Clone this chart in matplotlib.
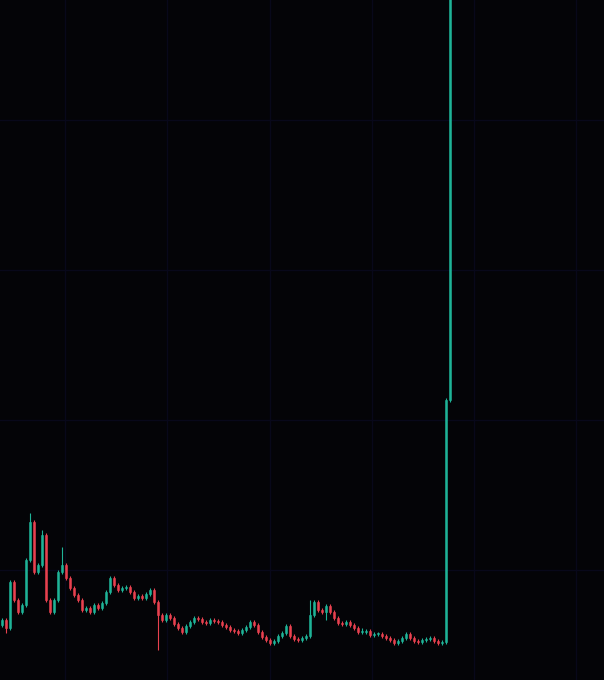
import numpy as np
import matplotlib
matplotlib.use("Agg")
import matplotlib.pyplot as plt

# closing prices, one per candle
closes = [60, 52, 98, 80, 68, 75, 120, 158, 108, 115,
          145, 80, 68, 80, 108, 115, 102, 92, 85, 80,
          70, 72, 68, 75, 72, 77, 88, 102, 95, 90,
          92, 93, 88, 82, 84, 82, 86, 90, 78, 65,
          60, 65, 62, 56, 52, 48, 54, 58, 62, 61,
          58, 57, 60, 59, 58, 55, 53, 50, 49, 47,
          50, 53, 58, 55, 48, 43, 40, 37, 39, 44,
          47, 54, 44, 41, 40, 42, 44, 65, 78, 70,
          68, 74, 68, 62, 57, 56, 58, 55, 52, 48,
          48, 49, 45, 46, 46, 44, 42, 40, 37, 39,
          42, 46, 42, 39, 38, 40, 41, 42, 39, 37,
          38, 280, 760]
first_open = 55

# notable wick extremes: candle index -> (high, low)
wick_high = {1: 47, 7: 167, 10: 150, 15: 133, 39: 30, 77: 80, 90: 52}
wick_low = {1: 47, 39: 30, 81: 60, 99: 35}

up_color = "#1fb397"
down_color = "#e8414f"
bg_color = "#040407"

opens = [first_open] + closes[:-1]
idx = np.arange(len(closes))

fig = plt.figure(figsize=(6.04, 6.8), dpi=100)
fig.patch.set_facecolor(bg_color)
ax = fig.add_axes([0, 0, 1, 1])
ax.set_facecolor(bg_color)

for i, (o, c) in enumerate(zip(opens, closes)):
    col = up_color if c >= o else down_color
    hi = max(o, c) + 2
    lo = min(o, c) - 2
    if i in wick_high and i not in wick_low:
        hi = max(hi, wick_high[i])
    if i in wick_low:
        lo = min(lo, wick_low[i])
    ax.vlines(i, lo, hi, color=col, linewidth=0.8)
    ax.bar(i, max(abs(c - o), 0.8), bottom=min(o, c), width=0.7,
           color=col, edgecolor=col, linewidth=0.4)

# faint grid
ax.set_xticks([15.75, 41.25, 67, 92.5, 118, 143.5])
ax.set_yticks([110, 260, 410, 560])
ax.grid(True, color="#08081a", linewidth=1.0)
ax.set_axisbelow(True)
ax.tick_params(length=0, labelbottom=False, labelleft=False)
for s in ax.spines.values():
    s.set_visible(False)

ax.set_xlim(-0.5, 150.5)
ax.set_ylim(0, 680)

fig.savefig("out.png", dpi=100, facecolor=bg_color)
